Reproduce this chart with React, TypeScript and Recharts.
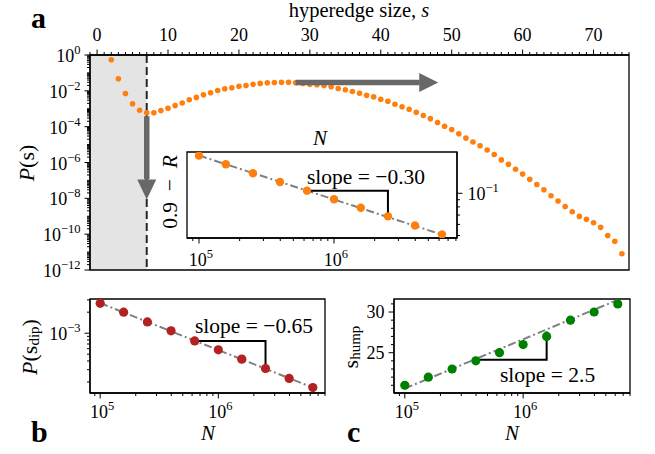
import React from 'react';
import {
  ComposedChart,
  Scatter,
  Line,
  XAxis,
  YAxis,
  ReferenceArea,
  ReferenceLine,
  ReferenceDot,
} from 'recharts';

const W = 655;
const H = 454;
const FONT = '"Liberation Serif", "Times New Roman", serif';
const ORANGE = '#ff7f0e';
const RED = '#b22222';
const GREEN = '#008000';
const ARROW = '#686868';
const FIT = '#808080';

// panel a: size distribution P(s)
const sizes = [
  2, 3, 4, 5, 6, 7, 8, 9, 10, 11, 12, 13, 14, 15, 16, 17, 18, 19, 20, 21, 22, 23, 24, 25,
  26, 27, 28, 29, 30, 31, 32, 33, 34, 35, 36, 37, 38, 39, 40, 41, 42, 43, 44, 45, 46, 47,
  48, 49, 50, 51, 52, 53, 54, 55, 56, 57, 58, 59, 60, 61, 62, 63, 64, 65, 66, 67, 68, 69,
  70, 71, 72, 73, 74,
];
const probs = [
  5.4e-1, 4.7e-2, 7.1e-3, 1.9e-3, 8.3e-4, 5.9e-4, 5.9e-4, 7.9e-4, 1.07e-3, 1.5e-3, 2.1e-3,
  3.2e-3, 4.3e-3, 6.0e-3, 7.8e-3, 1.05e-2, 1.3e-2, 1.5e-2, 1.8e-2, 2.0e-2, 2.3e-2, 2.6e-2,
  2.8e-2, 2.9e-2, 3.0e-2, 3.0e-2, 2.8e-2, 2.6e-2, 2.3e-2, 2.2e-2, 2.0e-2, 1.7e-2, 1.35e-2,
  1.15e-2, 9.1e-3, 7.4e-3, 5.6e-3, 4.6e-3, 3.4e-3, 2.6e-3, 1.8e-3, 1.3e-3, 9.3e-4, 6.3e-4,
  4.2e-4, 2.8e-4, 1.7e-4, 1.05e-4, 6.9e-5, 4.0e-5, 2.3e-5, 1.4e-5, 8.5e-6, 5.0e-6, 2.8e-6,
  1.4e-6, 7.9e-7, 4.2e-7, 2.3e-7, 1.15e-7, 5.9e-8, 3.0e-8, 1.4e-8, 7.1e-9, 3.5e-9, 1.8e-9,
  9.8e-10, 6.8e-10, 4.3e-10, 2.4e-10, 8.3e-11, 4.0e-11, 8.1e-12,
];
const dipSize = 7;

// system sizes shared by inset, b and c
const sysN = [1e5, 1.58e5, 2.51e5, 3.98e5, 6.31e5, 1e6, 1.58e6, 2.51e6, 3.98e6, 6.31e6];
const gapR = [0.1856, 0.161, 0.139, 0.1205, 0.1044, 0.0906, 0.0789, 0.0685, 0.059, 0.0509];
const dipP = [2.68e-3, 2.0e-3, 1.45e-3, 1.08e-3, 7.76e-4, 5.77e-4, 4.25e-4, 3.12e-4, 2.25e-4, 1.66e-4];
const humpS = [21, 22, 23, 24, 25, 26, 27, 29, 30, 31];

// fitted lines (end points) and slope triangles
const fitN = [1e5, 6.31e6];
const gapFit = [0.186, 0.0507];
const dipFit = [2.7e-3, 1.66e-4];
const humpFit = [20.6, 31.5];
const triN = [6.31e5, 2.51e6, 2.51e6];
const gapTri = [0.1044, 0.1044, 0.0685];
const dipTri = [7.76e-4, 7.76e-4, 3.12e-4];
const humpTriN = [3.98e5, 1.58e6, 1.58e6];
const humpTri = [24.15, 24.15, 27.6];

const mainData = sizes.map((s, i) => ({ s, p: probs[i] }));
const pairs = (xs: number[], ys: number[]) => xs.map((n, i) => ({ n, v: ys[i] }));

const logTicks = (lo: number, hi: number) => {
  const out: number[] = [];
  for (let e = Math.floor(Math.log10(lo)); e <= Math.ceil(Math.log10(hi)); e++) {
    for (let k = 1; k <= 9; k++) {
      const v = k * Math.pow(10, e);
      if (v >= lo * 0.99999 && v <= hi * 1.00001) out.push(v);
    }
  }
  return out;
};
const decade = (v: number) => {
  const l = Math.log10(v);
  return Math.abs(l - Math.round(l)) < 1e-6;
};
const expOf = (v: number) => {
  const e = Math.round(Math.log10(v));
  return e < 0 ? '\u2212' + -e : String(e);
};

const Pow10 = ({ x, y, exp, anchor }: { x: number; y: number; exp: string; anchor: 'start' | 'middle' | 'end' }) => (
  <text x={x} y={y} textAnchor={anchor} fontFamily={FONT} fontSize={18} fill="#000">
    10<tspan dy={-8} fontSize={12.5}>{exp}</tspan>
  </text>
);

type Side = 'top' | 'bottom' | 'left' | 'right';
const tickFactory =
  (side: Side, isMajor: (v: number) => boolean, label: (v: number, x: number, y: number) => React.ReactNode, majorLen = 5.5, minorLen = 3) =>
  (props: any) => {
    const { x, y, payload } = props;
    const v = payload.value;
    const major = isMajor(v);
    const len = major ? majorLen : minorLen;
    let x2 = x;
    let y2 = y;
    if (side === 'top') y2 = y - len;
    else if (side === 'bottom') y2 = y + len;
    else if (side === 'left') x2 = x - len;
    else x2 = x + len;
    return (
      <g>
        <line x1={x} y1={y} x2={x2} y2={y2} stroke="#000" strokeWidth={1} />
        {major ? label(v, x2, y2) : null}
      </g>
    );
  };

const AX = { stroke: '#000', strokeWidth: 1.3 };
const axisBase = { tickLine: false, tickSize: 0, tickMargin: 0, interval: 0 as const, allowDataOverflow: true, axisLine: AX };

const dot = (color: string, r: number) => (p: any) => <circle cx={p.cx} cy={p.cy} r={r} fill={color} />;

const sTicks = Array.from({ length: 77 }, (_, i) => i - 1);
const pTicks = logTicks(1e-12, 1);
const nTicksInset = logTicks(8.15e4, 8.15e6);
const nTicksB = logTicks(8.2e4, 8.0e6);
const gapTicks = logTicks(0.048, 0.197);
const dipTicks = logTicks(1.39e-4, 3.09e-3);
const humpTicks = [21, 22, 23, 24, 25, 26, 27, 28, 29, 30, 31];

const topTick = tickFactory(
  'top',
  (v) => v % 10 === 0,
  (v, x, y) => (
    <text x={x} y={y - 9} textAnchor="middle" fontFamily={FONT} fontSize={18} fill="#000">
      {v}
    </text>
  ),
);
const pTick = tickFactory(
  'left',
  (v) => decade(v) && Math.round(Math.log10(v)) % 2 === 0,
  (v, x, y) => <Pow10 x={x - 4} y={y + 7} exp={expOf(v)} anchor="end" />,
);
const nTickInset = tickFactory('bottom', decade, (v, x, y) => <Pow10 x={x + 2} y={y + 22} exp={expOf(v)} anchor="middle" />);
const nTick = tickFactory('bottom', decade, (v, x, y) => <Pow10 x={x + 2} y={y + 19} exp={expOf(v)} anchor="middle" />);
const gapTick = tickFactory('right', decade, (v, x, y) => <Pow10 x={x + 5} y={y + 7} exp={expOf(v)} anchor="start" />);
const dipTick = tickFactory('left', decade, (v, x, y) => <Pow10 x={x - 4} y={y + 7} exp={expOf(v)} anchor="end" />);
const humpTick = tickFactory(
  'left',
  (v) => v % 5 === 0,
  (v, x, y) => (
    <text x={x - 4} y={y + 6} textAnchor="end" fontFamily={FONT} fontSize={18} fill="#000">
      {v}
    </text>
  ),
);

const headRight = (p: any) => (
  <polygon points={`${p.cx},${p.cy} ${p.cx - 19},${p.cy - 9.5} ${p.cx - 19},${p.cy + 9.5}`} fill={ARROW} />
);
const headDown = (p: any) => (
  <polygon points={`${p.cx},${p.cy} ${p.cx - 9.5},${p.cy - 20} ${p.cx + 9.5},${p.cy - 20}`} fill={ARROW} />
);

const Layer = ({ children }: { children: React.ReactNode }) => (
  <div style={{ position: 'absolute', left: 0, top: 0, width: W, height: H }}>{children}</div>
);

const LogPanel = ({
  margin,
  domainX,
  nTicks,
  domainY,
  yTicks,
  yScale,
  yTick,
  ySide,
  xTick,
  points,
  fit,
  triX,
  tri,
  color,
  r,
}: any) => (
  <ComposedChart width={W} height={H} margin={margin}>
    <XAxis type="number" dataKey="n" scale="log" domain={domainX} ticks={nTicks} height={30} tick={xTick} {...axisBase} />
    <YAxis
      type="number"
      dataKey="v"
      scale={yScale}
      domain={domainY}
      ticks={yTicks}
      orientation={ySide}
      width={ySide === 'right' ? 40 : 60}
      tick={yTick}
      {...axisBase}
    />
    <ReferenceArea x1={domainX[0]} x2={domainX[1]} y1={domainY[0]} y2={domainY[1]} fill="#fff" fillOpacity={1} stroke="#000" strokeWidth={1.3} ifOverflow="visible" />
    <Line data={pairs(fitN, fit)} dataKey="v" stroke={FIT} strokeWidth={2} strokeDasharray="8 3 2 3" dot={false} isAnimationActive={false} />
    <Line data={pairs(triX, tri)} dataKey="v" stroke="#000" strokeWidth={2} dot={false} isAnimationActive={false} />
    <Scatter data={pairs(sysN, points)} shape={dot(color, r)} isAnimationActive={false} />
  </ComposedChart>
);

export default function App() {
  return (
    <div style={{ position: 'absolute', left: 0, top: 0, width: W, height: H, background: '#fff', overflow: 'hidden' }}>
      <Layer>
        <ComposedChart width={W} height={H} data={mainData} margin={{ top: 25, right: 26, bottom: 184, left: 30 }}>
          <XAxis type="number" dataKey="s" orientation="top" domain={[-1, 75]} ticks={sTicks} height={30} tick={topTick} {...axisBase} />
          <YAxis type="number" dataKey="p" scale="log" domain={[1e-12, 1]} ticks={pTicks} width={60} tick={pTick} {...axisBase} />
          <ReferenceArea x1={-1} x2={dipSize} y1={1e-12} y2={1} fill="#e4e4e4" fillOpacity={1} stroke="none" />
          <ReferenceLine x={dipSize} stroke="#262626" strokeWidth={2} strokeDasharray="8 4" />
          <ReferenceArea x1={-1} x2={75} y1={1e-12} y2={1} fill="none" stroke="#000" strokeWidth={1.3} ifOverflow="visible" />
          <Scatter data={mainData} shape={dot(ORANGE, 2.8)} isAnimationActive={false} />
        </ComposedChart>
      </Layer>
      <Layer>
        <ComposedChart width={W} height={H} data={mainData} margin={{ top: 55, right: 26, bottom: 184, left: 90 }}>
          <XAxis type="number" dataKey="s" domain={[-1, 75]} hide allowDataOverflow />
          <YAxis type="number" dataKey="p" scale="log" domain={[1e-12, 1]} hide allowDataOverflow />
          <ReferenceLine segment={[{ x: 28, y: 2.9e-2 }, { x: 45.5, y: 2.9e-2 }]} stroke={ARROW} strokeWidth={5.5} />
          <ReferenceDot x={48.1} y={2.9e-2} shape={headRight} />
          <ReferenceLine segment={[{ x: dipSize, y: 3.8e-4 }, { x: dipSize, y: 1.15e-7 }]} stroke={ARROW} strokeWidth={5.5} />
          <ReferenceDot x={dipSize} y={8.5e-9} shape={headDown} />
        </ComposedChart>
      </Layer>
      <Layer>
        <LogPanel
          margin={{ top: 152, right: 158, bottom: 186, left: 187 }}
          domainX={[8.15e4, 8.15e6]}
          nTicks={nTicksInset}
          xTick={nTickInset}
          domainY={[0.048, 0.197]}
          yTicks={gapTicks}
          yScale="log"
          yTick={gapTick}
          ySide="right"
          points={gapR}
          fit={gapFit}
          triX={triN}
          tri={gapTri}
          color={ORANGE}
          r={4.2}
        />
      </Layer>
      <Layer>
        <LogPanel
          margin={{ top: 299, right: 330, bottom: 31, left: 30 }}
          domainX={[8.2e4, 8.0e6]}
          nTicks={nTicksB}
          xTick={nTick}
          domainY={[1.39e-4, 3.09e-3]}
          yTicks={dipTicks}
          yScale="log"
          yTick={dipTick}
          ySide="left"
          points={dipP}
          fit={dipFit}
          triX={triN}
          tri={dipTri}
          color={RED}
          r={4.6}
        />
      </Layer>
      <Layer>
        <LogPanel
          margin={{ top: 299, right: 25, bottom: 31, left: 334 }}
          domainX={[8.1e4, 8.0e6]}
          nTicks={nTicksB}
          xTick={nTick}
          domainY={[20.05, 31.6]}
          yTicks={humpTicks}
          yScale="linear"
          yTick={humpTick}
          ySide="left"
          points={humpS}
          fit={humpFit}
          triX={humpTriN}
          tri={humpTri}
          color={GREEN}
          r={4.6}
        />
      </Layer>
      <svg width={W} height={H} style={{ position: 'absolute', left: 0, top: 0 }} fontFamily={FONT} fill="#000">
        <text x={31} y={28} fontWeight="bold" fontSize={30}>a</text>
        <text x={359} y={17} fontSize={20.5} textAnchor="middle">
          hyperedge size, <tspan fontStyle="italic">s</tspan>
        </text>
        <text x={26} y={163} fontSize={22} textAnchor="middle" dominantBaseline="central" transform="rotate(-90 26 163)">
          <tspan fontStyle="italic">P</tspan>(s)
        </text>
        <text x={320} y={145} fontSize={21} fontStyle="italic" textAnchor="middle">N</text>
        <text x={170} y={192} fontSize={21.5} textAnchor="middle" dominantBaseline="central" transform="rotate(-90 170 192)">
          0.9{'\u2002\u2212\u2002'}<tspan fontStyle="italic">R</tspan>
        </text>
        <text x={307} y={184} fontSize={21.5}>slope = {'\u2212'}0.30</text>

        <text x={31} y={442} fontWeight="bold" fontSize={30}>b</text>
        <text x={29} y={347} fontSize={22} textAnchor="middle" dominantBaseline="central" transform="rotate(-90 29 347)">
          <tspan fontStyle="italic">P</tspan>(s<tspan fontSize={15} dy={5}>dip</tspan>
          <tspan dy={-5}>)</tspan>
        </text>
        <text x={208} y={440} fontSize={21} fontStyle="italic" textAnchor="middle">N</text>
        <text x={195} y={333} fontSize={21.5}>slope = {'\u2212'}0.65</text>

        <text x={347} y={442} fontWeight="bold" fontSize={30}>c</text>
        <text x={350} y={347} fontSize={22} textAnchor="middle" dominantBaseline="central" transform="rotate(-90 350 347)">
          s<tspan fontSize={15} dy={5}>hump</tspan>
        </text>
        <text x={512} y={440} fontSize={21} fontStyle="italic" textAnchor="middle">N</text>
        <text x={500} y={382} fontSize={21.5}>slope = 2.5</text>
      </svg>
    </div>
  );
}
